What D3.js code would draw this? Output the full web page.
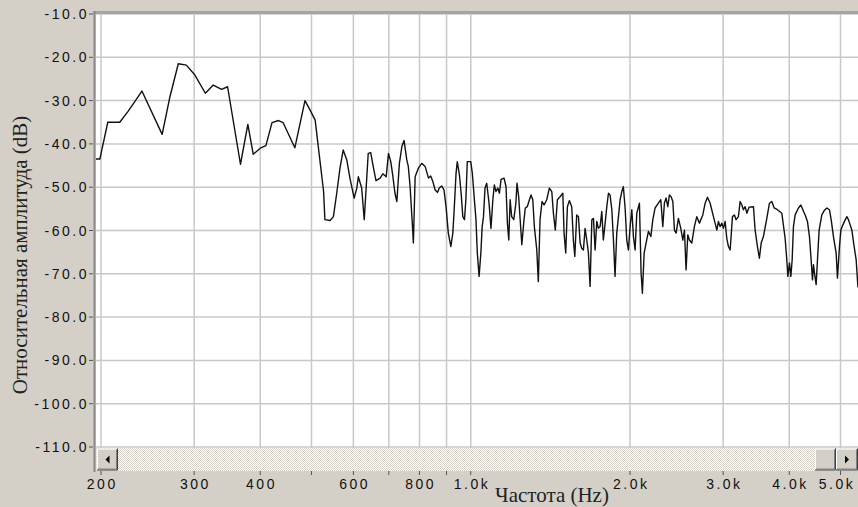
<!DOCTYPE html>
<html>
<head>
<meta charset="utf-8">
<script src="https://cdn.jsdelivr.net/npm/d3@7"></script>
<style>
  body { margin: 0; background: #d4d0c8; }
  svg { display: block; }
</style>
</head>
<body>
<div id="chart"></div>
<script>
// spectrum (frequency in Hz, level in dB)
const freqHz = [194, 199, 206, 217, 225, 239, 261, 270, 280, 290, 301, 315, 326, 338, 347,
  367, 379, 388, 400, 410, 421, 433, 442, 465, 486, 497, 508, 527, 530, 542, 550, 558, 566,
  574, 583, 591, 602, 609, 613, 622, 629, 640, 647, 654, 662, 674, 682, 692, 699, 706, 712,
  719, 725, 733, 741, 748, 757, 762, 768, 776, 779, 785, 796, 808, 820, 832, 840, 848, 856,
  865, 872, 881, 890, 898, 907, 917, 925, 931, 938, 943, 952, 959, 966, 973, 979, 985, 1000,
  1007, 1016, 1023, 1029, 1037, 1045, 1051, 1057, 1064, 1072, 1083, 1092, 1101, 1108, 1116,
  1125, 1133, 1141, 1156, 1166, 1173, 1180, 1187, 1195, 1206, 1217, 1223, 1232, 1240, 1249,
  1261, 1268, 1279, 1291, 1300, 1310, 1319, 1333, 1342, 1352, 1364, 1376, 1392, 1408, 1423,
  1433, 1445, 1458, 1475, 1493, 1501, 1512, 1523, 1536, 1552, 1563, 1573, 1586, 1598, 1610,
  1621, 1633, 1645, 1657, 1669, 1681, 1694, 1706, 1718, 1731, 1743, 1756, 1769, 1781, 1795,
  1808, 1821, 1834, 1848, 1861, 1874, 1888, 1902, 1916, 1930, 1943, 1958, 1972, 1986, 2001,
  2016, 2030, 2045, 2060, 2084, 2099, 2111, 2127, 2145, 2167, 2190, 2209, 2231, 2263, 2287,
  2307, 2323, 2340, 2358, 2374, 2392, 2410, 2427, 2445, 2469, 2495, 2517, 2535, 2553, 2572,
  2590, 2617, 2647, 2675, 2706, 2746, 2774, 2802, 2835, 2876, 2919, 2939, 2961, 2983, 3004,
  3026, 3048, 3070, 3093, 3124, 3151, 3174, 3206, 3230, 3254, 3277, 3301, 3326, 3359, 3423,
  3448, 3483, 3513, 3540, 3575, 3628, 3670, 3708, 3746, 3800, 3873, 3929, 3958, 3976, 4004,
  4028, 4051, 4074, 4104, 4164, 4207, 4244, 4287, 4330, 4368, 4400, 4426, 4445, 4464, 4497,
  4523, 4556, 4610, 4657, 4712, 4765, 4801, 4849, 4906, 4934, 4978, 5008, 5052, 5087, 5140,
  5176, 5215, 5253, 5306, 5353, 5393, 5440];

const levelDb = [-43.5, -43.5, -35.0, -35.0, -32.5, -27.8, -37.8, -29.1, -21.5, -21.8, -24.1,
  -28.3, -26.4, -27.4, -26.8, -44.7, -35.5, -42.4, -41.0, -40.4, -35.1, -34.6, -35.1, -40.9,
  -30.0, -32.2, -34.5, -51.0, -57.5, -57.7, -56.8, -51.4, -45.6, -41.4, -43.7, -47.9, -52.5,
  -50.2, -47.6, -50.2, -57.5, -42.2, -42.0, -45.2, -48.5, -47.9, -46.9, -47.6, -42.2, -44.1,
  -47.2, -51.4, -53.3, -44.5, -40.6, -39.2, -43.7, -45.2, -49.9, -59.1, -62.9, -47.6, -45.6,
  -44.5, -45.2, -47.9, -47.4, -48.7, -50.6, -51.2, -50.2, -49.7, -50.6, -54.5, -60.6, -63.7,
  -60.6, -54.5, -46.8, -44.1, -47.2, -51.4, -56.8, -57.5, -52.9, -44.1, -44.1, -46.8, -52.9,
  -57.5, -65.2, -70.6, -65.2, -59.1, -56.8, -50.2, -49.1, -53.7, -59.5, -52.9, -49.5, -51.0,
  -50.2, -51.4, -48.2, -47.9, -49.9, -58.3, -62.2, -52.9, -56.8, -57.5, -53.7, -49.1, -52.2,
  -57.5, -63.3, -57.5, -54.8, -54.5, -52.9, -51.8, -52.9, -59.1, -64.5, -71.8, -57.5, -53.3,
  -54.1, -52.9, -50.2, -51.0, -56.0, -59.9, -52.9, -52.2, -51.4, -60.6, -65.2, -54.5, -53.1,
  -54.5, -62.2, -66.0, -56.4, -56.8, -62.9, -64.1, -64.5, -59.5, -62.2, -65.2, -72.9, -57.5,
  -57.2, -64.5, -57.9, -59.5, -59.1, -55.6, -62.2, -58.3, -54.5, -51.4, -51.8, -55.2, -62.2,
  -70.6, -60.6, -56.8, -52.9, -51.0, -49.9, -54.8, -62.2, -64.5, -59.1, -55.2, -61.4, -64.5,
  -56.0, -53.7, -69.8, -74.5, -65.2, -62.9, -60.2, -61.4, -57.5, -54.8, -53.7, -52.9, -59.1,
  -53.7, -52.5, -54.5, -51.8, -52.2, -53.3, -59.9, -60.6, -57.2, -59.5, -62.2, -59.9, -69.1,
  -61.0, -62.2, -62.9, -59.1, -56.8, -58.3, -56.4, -53.7, -52.3, -53.7, -56.8, -59.9, -57.9,
  -59.1, -58.3, -59.5, -57.9, -61.8, -63.7, -64.5, -56.8, -56.4, -57.5, -56.8, -53.3, -54.1,
  -55.2, -54.5, -56.0, -54.6, -54.5, -59.9, -63.7, -66.4, -62.9, -61.4, -57.2, -53.7, -53.3,
  -54.8, -55.2, -56.0, -61.8, -66.8, -70.6, -67.5, -70.6, -66.8, -59.1, -56.4, -54.8, -54.1,
  -55.2, -56.4, -57.9, -61.4, -66.8, -71.4, -67.9, -69.8, -72.5, -66.8, -59.9, -56.4, -55.4,
  -54.8, -55.2, -57.5, -61.4, -65.2, -71.0, -63.7, -59.9, -58.7, -57.9, -56.8, -57.5, -58.7,
  -59.9, -63.7, -66.8, -72.9, -73.7];

const yTicks = [-10, -20, -30, -40, -50, -60, -70, -80, -90, -100, -110];
const xTicks = [200, 300, 400, 500, 600, 700, 800, 900, 1000, 2000, 3000, 4000, 5000];
const xTickLabels = ['200', '300', '400', '', '600', '', '800', '', '1.0k', '2.0k', '3.0k', '4.0k', '5.0k'];

const yTitle = 'Относительная амплитуда (dB)';
const xTitle = 'Частота (Hz)';

const width = 858, height = 507;
const plot = { left: 96, top: 14, right: 858, bottom: 448 };

const svg = d3.select('#chart').append('svg')
  .attr('width', width)
  .attr('height', height)
  .style('background', '#d4d0c8');

const x = d3.scaleLog().domain([200, 5000]).range([101, 840.5]);
const y = d3.scaleLinear().domain([-110, -10]).range([447, 14]);

// plot area
svg.append('rect')
  .attr('x', plot.left).attr('y', plot.top)
  .attr('width', plot.right - plot.left).attr('height', plot.bottom - plot.top)
  .attr('fill', '#ffffff');

svg.append('clipPath').attr('id', 'clip')
  .append('rect')
  .attr('x', plot.left).attr('y', plot.top)
  .attr('width', plot.right - plot.left).attr('height', plot.bottom - plot.top);

const grid = svg.append('g').attr('clip-path', 'url(#clip)');

grid.selectAll('line.hg')
  .data(yTicks)
  .enter().append('line')
  .attr('class', 'hg')
  .attr('x1', plot.left).attr('x2', plot.right)
  .attr('y1', d => y(d)).attr('y2', d => y(d))
  .style('stroke', '#c8c8c8')
  .style('stroke-width', 1.5);

grid.selectAll('line.vg')
  .data(xTicks)
  .enter().append('line')
  .attr('class', 'vg')
  .attr('x1', d => x(d)).attr('x2', d => x(d))
  .attr('y1', plot.top).attr('y2', plot.bottom)
  .style('stroke', '#c8c8c8')
  .style('stroke-width', 1.5);

// spectrum line
const points = freqHz.map((f, i) => [f, levelDb[i]]);
const line = d3.line()
  .x(d => x(d[0]))
  .y(d => y(d[1]));

grid.append('path')
  .datum(points)
  .attr('d', line)
  .style('fill', 'none')
  .style('stroke', '#111')
  .style('stroke-width', 1.4)
  .style('stroke-linejoin', 'round');

// frame
svg.append('line')
  .attr('x1', 93).attr('x2', plot.right)
  .attr('y1', 12.5).attr('y2', 12.5)
  .style('stroke', '#a4a4a4')
  .style('stroke-width', 3);

svg.append('line')
  .attr('x1', 94.5).attr('x2', 94.5)
  .attr('y1', 11).attr('y2', 472)
  .style('stroke', '#8a8a8a')
  .style('stroke-width', 2);

// y axis ticks and labels
const yAxis = svg.append('g');
yAxis.selectAll('line')
  .data(yTicks)
  .enter().append('line')
  .attr('x1', 89).attr('x2', 93)
  .attr('y1', d => y(d)).attr('y2', d => y(d))
  .style('stroke', '#555');

yAxis.selectAll('text')
  .data(yTicks)
  .enter().append('text')
  .attr('x', 89)
  .attr('y', d => y(d) + 5)
  .attr('text-anchor', 'end')
  .style('font-family', 'Arial, "Liberation Sans", sans-serif')
  .style('font-size', '14px')
  .style('letter-spacing', '2.5px')
  .style('fill', '#111')
  .text(d => d.toFixed(1));

// scrollbar
const defs = svg.append('defs');
const pat = defs.append('pattern')
  .attr('id', 'track')
  .attr('width', 2).attr('height', 2)
  .attr('patternUnits', 'userSpaceOnUse');
pat.append('rect').attr('width', 2).attr('height', 2).attr('fill', '#ffffff');
pat.append('rect').attr('width', 1).attr('height', 1).attr('fill', '#d4d0c8');
pat.append('rect').attr('x', 1).attr('y', 1).attr('width', 1).attr('height', 1).attr('fill', '#d4d0c8');

svg.append('rect')
  .attr('x', 96).attr('y', 448)
  .attr('width', plot.right - 96).attr('height', 23)
  .attr('fill', 'url(#track)');

function button(x0, w, arrow) {
  const g = svg.append('g');
  const y0 = 448.5, h = 22;
  g.append('rect')
    .attr('x', x0).attr('y', y0).attr('width', w).attr('height', h)
    .attr('fill', '#d4d0c8');
  g.append('path')
    .attr('d', `M${x0 + 0.5},${y0 + h - 1}V${y0 + 0.5}H${x0 + w - 1}`)
    .style('fill', 'none').style('stroke', '#ffffff');
  g.append('path')
    .attr('d', `M${x0},${y0 + h - 0.5}H${x0 + w - 0.5}V${y0}`)
    .style('fill', 'none').style('stroke', '#404040');
  g.append('path')
    .attr('d', `M${x0 + 1},${y0 + h - 1.5}H${x0 + w - 1.5}V${y0 + 1}`)
    .style('fill', 'none').style('stroke', '#808080');
  const cx = x0 + w / 2, cy = y0 + h / 2;
  if (arrow === 'left') {
    g.append('path').attr('d', `M${cx - 2},${cy}L${cx + 2},${cy - 4}L${cx + 2},${cy + 4}Z`).attr('fill', '#000');
  } else if (arrow === 'right') {
    g.append('path').attr('d', `M${cx + 2},${cy}L${cx - 2},${cy - 4}L${cx - 2},${cy + 4}Z`).attr('fill', '#000');
  }
}
button(97, 21, 'left');
button(815, 21, null);
button(836, 22, 'right');

// x axis ticks and labels
const xAxis = svg.append('g');
xAxis.selectAll('line')
  .data(xTicks)
  .enter().append('line')
  .attr('x1', d => x(d)).attr('x2', d => x(d))
  .attr('y1', 471).attr('y2', 475)
  .style('stroke', '#555');

// labels centred on their tick, but the last one is pushed in to stay on the page
xAxis.selectAll('text')
  .data(xTicks)
  .enter().append('text')
  .attr('x', d => Math.min(x(d) + 1.25, 837))
  .attr('y', 489)
  .attr('text-anchor', 'middle')
  .style('font-family', 'Arial, "Liberation Sans", sans-serif')
  .style('font-size', '14px')
  .style('letter-spacing', '2.5px')
  .style('fill', '#111')
  .text((d, i) => xTickLabels[i]);

// axis titles
svg.append('text')
  .attr('x', 552)
  .attr('y', 502)
  .attr('text-anchor', 'middle')
  .style('font-family', '"Liberation Serif", "Times New Roman", serif')
  .style('font-size', '21px')
  .style('fill', '#222')
  .text(xTitle);

svg.append('text')
  .attr('transform', 'translate(27,255) rotate(-90)')
  .attr('text-anchor', 'middle')
  .style('font-family', '"Liberation Serif", "Times New Roman", serif')
  .style('font-size', '21px')
  .style('fill', '#222')
  .text(yTitle);
</script>
</body>
</html>
